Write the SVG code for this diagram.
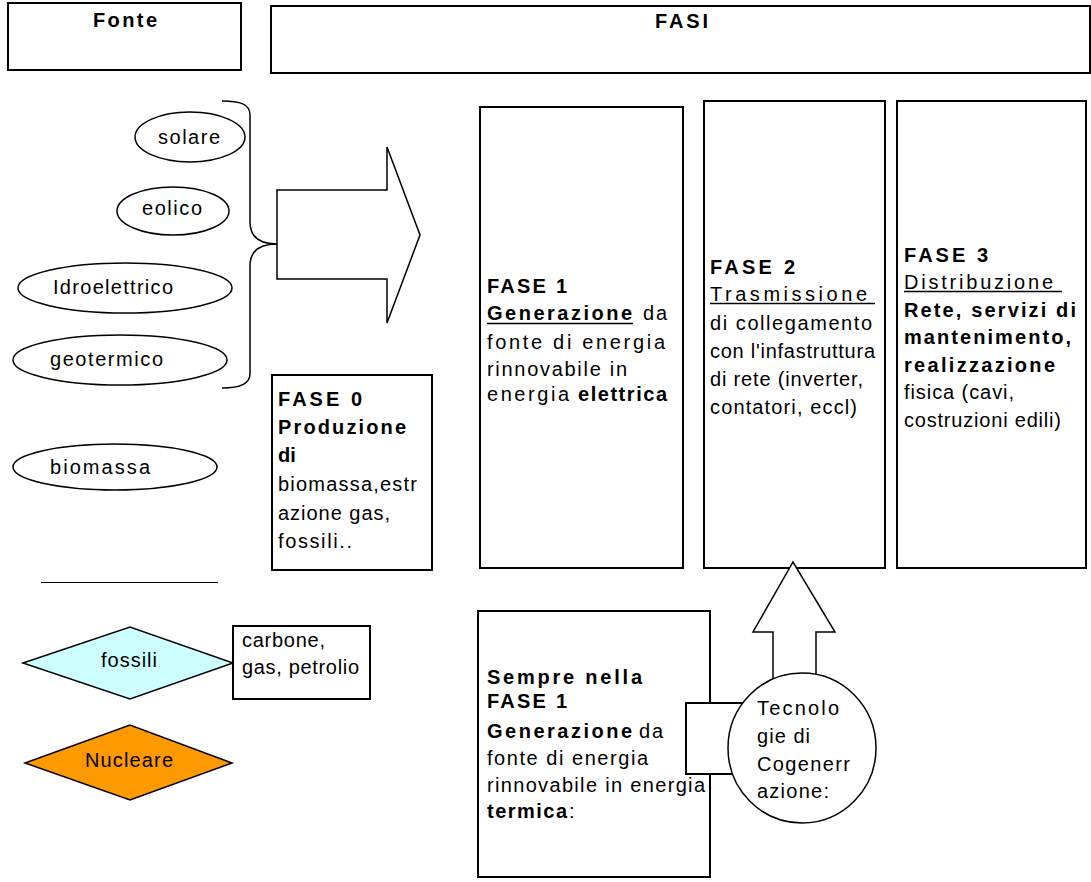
<svg xmlns="http://www.w3.org/2000/svg" width="1091" height="882" viewBox="0 0 1091 882">
<style>
text{font-family:"Liberation Sans",Arial,sans-serif;font-size:20px;fill:#000}
.b{font-weight:bold}
.box{fill:#fff;stroke:#000;stroke-width:2}
.ell{fill:#fff;stroke:#000;stroke-width:1.5}
.ln{fill:none;stroke:#000;stroke-width:1.5}
.ul{stroke:#000;stroke-width:1.5}
</style>
<rect width="1091" height="882" fill="#fff"/>
<g id="fonte"><rect class="box" x="8" y="3" width="233" height="67"/><text class="b" x="93" y="27" textLength="64" lengthAdjust="spacing">Fonte</text></g>
<g id="fasi"><rect class="box" x="271" y="6" width="819" height="67"/><text class="b" x="655" y="28" textLength="53" lengthAdjust="spacing">FASI</text></g>
<g id="solare"><ellipse class="ell" cx="190" cy="137" rx="55" ry="25"/><text x="158" y="144" textLength="62" lengthAdjust="spacing">solare</text></g>
<g id="eolico"><ellipse class="ell" cx="173" cy="211" rx="56" ry="24"/><text x="142" y="215" textLength="60" lengthAdjust="spacing">eolico</text></g>
<g id="idroelettrico"><ellipse class="ell" cx="125" cy="288" rx="107" ry="25"/><text x="53" y="294" textLength="120" lengthAdjust="spacing">Idroelettrico</text></g>
<g id="geotermico"><ellipse class="ell" cx="120" cy="360" rx="107" ry="25"/><text x="50" y="366" textLength="113" lengthAdjust="spacing">geotermico</text></g>
<g id="biomassa"><ellipse class="ell" cx="115" cy="467" rx="102" ry="23"/><text x="50" y="474" textLength="100" lengthAdjust="spacing">biomassa</text></g>
<g id="fase0"><rect class="box" x="272" y="375" width="160" height="195"/>
<text class="b" x="278" y="406" textLength="84" lengthAdjust="spacing">FASE 0</text>
<text class="b" x="278" y="434" textLength="128" lengthAdjust="spacing">Produzione</text>
<text class="b" x="278" y="462">di</text>
<text x="278" y="491" textLength="139" lengthAdjust="spacing">biomassa,estr</text>
<text x="278" y="520" textLength="112" lengthAdjust="spacing">azione gas,</text>
<text x="278" y="548" textLength="74" lengthAdjust="spacing">fossili..</text></g>
<g id="fase1"><rect class="box" x="480" y="107" width="203" height="461"/>
<text class="b" x="487" y="293" textLength="80" lengthAdjust="spacing">FASE 1</text>
<text class="b" x="487" y="320" textLength="145" lengthAdjust="spacing">Generazione</text>
<text x="643" y="320" textLength="24" lengthAdjust="spacing">da</text>
<line class="ul" x1="487" y1="323.5" x2="633" y2="323.5"/>
<text x="487" y="349" textLength="178" lengthAdjust="spacing">fonte di energia</text>
<text x="487" y="376" textLength="140" lengthAdjust="spacing">rinnovabile in</text>
<text x="487" y="401" textLength="82" lengthAdjust="spacing">energia</text>
<text class="b" x="578" y="401" textLength="89" lengthAdjust="spacing">elettrica</text></g>
<g id="fase2"><rect class="box" x="704" y="101" width="181" height="467"/>
<text class="b" x="710" y="274" textLength="85" lengthAdjust="spacing">FASE 2</text>
<text x="710" y="301" textLength="157" lengthAdjust="spacing">Trasmissione</text>
<line class="ul" x1="710" y1="303.5" x2="875" y2="303.5"/>
<text x="710" y="330" textLength="162" lengthAdjust="spacing">di collegamento</text>
<text x="710" y="358" textLength="165" lengthAdjust="spacing">con l'infastruttura</text>
<text x="710" y="386" textLength="153" lengthAdjust="spacing">di rete (inverter,</text>
<text x="710" y="414" textLength="147" lengthAdjust="spacing">contatori, eccl)</text></g>
<g id="fase3"><rect class="box" x="897" y="101" width="189" height="467"/>
<text class="b" x="904" y="262" textLength="84" lengthAdjust="spacing">FASE 3</text>
<text x="904" y="289" textLength="149" lengthAdjust="spacing">Distribuzione</text>
<line class="ul" x1="904" y1="291.5" x2="1062" y2="291.5"/>
<text class="b" x="904" y="317" textLength="172" lengthAdjust="spacing">Rete, servizi di</text>
<text class="b" x="904" y="344" textLength="167" lengthAdjust="spacing">mantenimento,</text>
<text class="b" x="904" y="372" textLength="151" lengthAdjust="spacing">realizzazione</text>
<text x="904" y="399" textLength="110" lengthAdjust="spacing">fisica (cavi,</text>
<text x="904" y="427" textLength="157" lengthAdjust="spacing">costruzioni edili)</text></g>
<g id="separatore"><line x1="41" y1="582.5" x2="218" y2="582.5" stroke="#000" stroke-width="1"/></g>
<g id="fossili"><polygon points="23,663 130,627 233,663 130,699" fill="#ccffff" stroke="#000" stroke-width="1.5"/><text x="101" y="667" textLength="56" lengthAdjust="spacing">fossili</text></g>
<g id="carbone"><rect class="box" x="233" y="626" width="137" height="73"/><text x="242" y="647" textLength="83" lengthAdjust="spacing">carbone,</text><text x="242" y="674" textLength="117" lengthAdjust="spacing">gas, petrolio</text></g>
<g id="nucleare"><polygon points="25,763 130,725 232,763 130,800" fill="#ff9900" stroke="#000" stroke-width="1.5"/><text x="85" y="767" textLength="88" lengthAdjust="spacing">Nucleare</text></g>
<g id="sempre"><rect class="box" x="478" y="611" width="232" height="266"/>
<text class="b" x="487" y="684" textLength="155" lengthAdjust="spacing">Sempre nella</text>
<text class="b" x="487" y="708" textLength="80" lengthAdjust="spacing">FASE 1</text>
<text class="b" x="487" y="738" textLength="145" lengthAdjust="spacing">Generazione</text>
<text x="639" y="738" textLength="24" lengthAdjust="spacing">da</text>
<text x="487" y="765" textLength="161" lengthAdjust="spacing">fonte di energia</text>
<text x="487" y="792" textLength="218" lengthAdjust="spacing">rinnovabile in energia</text>
<text class="b" x="487" y="818" textLength="80" lengthAdjust="spacing">termica</text>
<text x="569" y="818">:</text></g>
<g id="connectors">
<path class="ln" d="M222,101 C240,101 250,104 250,115 L250,222 C250,236 258,244 277,244 C258,244 250,252 250,266 L250,374 C250,384 240,388 222,388"/>
<polygon points="277,190 387,190 387,147 420,235 387,323 387,279 277,279" fill="#fff" stroke="#000" stroke-width="1.5"/>
<rect x="686" y="703" width="59" height="71" fill="#fff" stroke="#000" stroke-width="2"/>
<polygon points="773,690 773,632 753,632 793,562 835,632 816,632 816,690" fill="#fff" stroke="#000" stroke-width="1.5"/>
</g>
<g id="cogenerazione"><ellipse class="ell" cx="802" cy="748" rx="74" ry="75"/>
<text x="757" y="715" textLength="82" lengthAdjust="spacing">Tecnolo</text>
<text x="757" y="743" textLength="53" lengthAdjust="spacing">gie di</text>
<text x="757" y="771" textLength="93" lengthAdjust="spacing">Cogenerr</text>
<text x="757" y="798" textLength="72" lengthAdjust="spacing">azione:</text></g>
</svg>
